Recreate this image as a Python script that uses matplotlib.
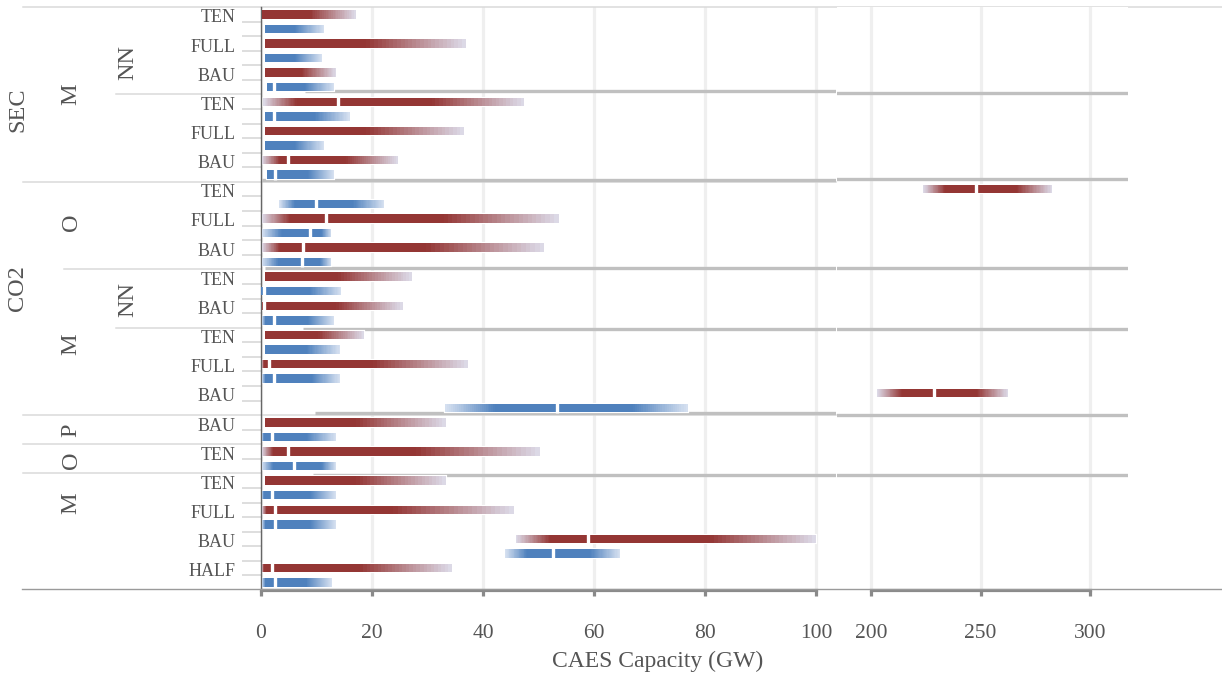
import matplotlib
matplotlib.use('Agg')
import matplotlib.pyplot as plt
import numpy as np
from matplotlib.transforms import blended_transform_factory
from matplotlib.colors import to_rgb
from matplotlib.lines import Line2D

plt.rcParams['font.family'] = ['Liberation Serif', 'DejaVu Serif']

# ---------------- data ----------------
categories = ['TEN', 'FULL', 'BAU', 'TEN', 'FULL', 'BAU',
              'TEN', 'FULL', 'BAU', 'TEN', 'BAU', 'TEN', 'FULL', 'BAU',
              'BAU', 'TEN', 'TEN', 'FULL', 'BAU', 'HALF']

# hierarchical headers: (label, first category, end category)
level1_groups = [('SEC', 0, 6), ('CO2', 6, 14), ('', 14, 20)]
level2_groups = [('M', 0, 6), ('O', 6, 9), ('M', 9, 14), ('P', 14, 15), ('O', 15, 16), ('M', 16, 20)]
level3_groups = [('NN', 0, 3), ('', 3, 6), ('', 6, 9), ('NN', 9, 11), ('', 11, 14),
                 ('', 14, 15), ('', 15, 16), ('', 16, 20)]

# red series: low end, solid start, median (None = no mark), solid end, high end  (GW)
red_lo   = [0.1, 0.7, 0.7, 0.4, 0.7, 0.1, 223.9, 0.1, 0.1, 0.7, 0.1, 0.7, 0.1, 202.9, 0.7, 0.1, 0.7, 0.1, 45.9, 0.1]
red_a    = [0.1, 0.7, 0.7, 6.4, 0.7, 3.4, 233.8, 5.2, 3.4, 0.7, 0.1, 0.7, 0.5, 214.0, 0.7, 2.2, 0.7, 1.0, 52.1, 0.5]
red_med  = [None, None, None, 13.8, None, 4.8, 247.8, 11.7, 7.6, None, 0.6, None, 1.5, 228.6, None, 4.8, None, 2.6, 58.9, 1.9]
red_b    = [8.8, 19.0, 7.3, 30.8, 19.0, 15.4, 266.5, 32.9, 29.8, 13.9, 13.6, 10.3, 20.2, 248.3, 17.2, 28.0, 17.2, 23.8, 80.9, 17.8]
red_hi   = [17.1, 36.9, 13.5, 47.4, 36.6, 24.6, 282.8, 53.6, 51.0, 27.2, 25.5, 18.6, 37.3, 262.6, 33.3, 50.3, 33.3, 45.6, 100.0, 34.4]

# blue series
blue_lo  = [0.8, 0.7, 1.1, 0.8, 0.7, 1.1, 3.3, 0.1, 0.1, 0.0, 0.1, 0.7, 0.1, 33.2, 0.1, 0.1, 0.1, 0.1, 44.0, 0.1]
blue_a   = [0.8, 0.7, 1.1, 0.8, 0.7, 1.1, 6.1, 3.7, 3.1, 0.0, 0.8, 0.7, 0.8, 42.2, 0.5, 2.2, 0.5, 0.8, 47.9, 0.8]
blue_med = [None, None, 2.3, 2.3, None, 2.6, 9.9, 8.8, 7.3, 0.5, 2.3, None, 2.3, 53.3, 1.9, 5.9, 1.9, 2.6, 52.7, 2.6]
blue_b   = [6.1, 6.1, 7.9, 9.7, 6.1, 8.5, 16.6, 10.9, 10.6, 8.8, 8.5, 8.2, 9.1, 67.0, 8.2, 10.9, 8.8, 8.8, 59.3, 8.2]
blue_hi  = [11.4, 11.0, 13.2, 16.0, 11.4, 13.2, 22.2, 12.7, 12.7, 14.5, 13.2, 14.2, 14.2, 76.9, 13.5, 13.5, 13.5, 13.5, 64.7, 12.8]

# grey divider bars: starting value (GW)
divider_start = [7.9, 0.2, 0.7, 7.6, 9.7, 9.4]

left_ticks = [0, 20, 40, 60, 80, 100]
right_ticks = [200, 250, 300]

# ---------------- layout / style ----------------
W, H = 1222, 678
fig = plt.figure(figsize=(W / 100, H / 100), dpi=100)

def fx(px):
    return px / W

def fy(py):
    return 1 - py / H

ax_l = fig.add_axes([fx(261), fy(590), fx(836) - fx(261), fy(7) - fy(590)])
ax_r = fig.add_axes([fx(837), fy(590), fx(1128) - fx(837), fy(7) - fy(590)])
n_sub = 2 * len(categories)

RED = to_rgb('#943634')
RED_LIGHT = to_rgb('#dddcea')
BLUE = to_rgb('#4f81bd')
BLUE_LIGHT = to_rgb('#d8e2f1')
TXT = '#555555'
BAR_H = 0.58
NSEG = 26

def draw_bar(ax, y, lo, a, med, b, hi, solid, light):
    ax.barh(y, hi - lo, left=lo, height=BAR_H, facecolor='none', edgecolor='white', lw=1.6, zorder=2)
    if b > a:
        ax.barh(y, b - a, left=a, height=BAR_H, color=solid, lw=0, zorder=3)
    for s, e, rev in ((lo, a, True), (b, hi, False)):
        if e - s <= 0:
            continue
        edges = np.linspace(s, e, NSEG + 1)
        t = (np.arange(NSEG) + 0.5) / NSEG
        if rev:
            t = 1 - t
        cols = [tuple(np.array(solid) * (1 - tt) + np.array(light) * tt) for tt in t]
        ax.barh([y] * NSEG, np.diff(edges) * 1.02, left=edges[:-1], height=BAR_H,
                color=cols, lw=0, zorder=3)
    if med is not None:
        ax.vlines(med, y - BAR_H / 2 - 0.08, y + BAR_H / 2 + 0.08, colors='white', lw=2.4, zorder=5)

for ax in (ax_l, ax_r):
    for i in range(len(categories)):
        draw_bar(ax, 2 * i, red_lo[i], red_a[i], red_med[i], red_b[i], red_hi[i], RED, RED_LIGHT)
        draw_bar(ax, 2 * i + 1, blue_lo[i], blue_a[i], blue_med[i], blue_b[i], blue_hi[i], BLUE, BLUE_LIGHT)
    ax.set_ylim(n_sub - 0.5, -0.5)
    for s in ('top', 'right'):
        ax.spines[s].set_visible(False)
    ax.spines['bottom'].set_color('#8a8a8a')
    ax.spines['bottom'].set_linewidth(2.3)
    ax.tick_params(axis='x', direction='out', length=4.5, width=2.3, color='#8a8a8a',
                   labelsize=15.5, labelcolor=TXT, pad=20)
    ax.grid(axis='x', color='#efefef', lw=2.3, zorder=0)
    ax.set_axisbelow(True)

# divider grey lines (boundary index + vertical nudge per panel)
div_rows_l = [5.24, 11.37, 17.39, 21.59, 27.39, 31.61]
div_rows_r = [5.38, 11.28, 17.43, 21.59, 27.49, 31.61]
for st, yl, yr in zip(divider_start, div_rows_l, div_rows_r):
    ax_l.hlines(yl, st, 400, colors='#c0c0c0', lw=2.4, zorder=1.5)
    ax_r.hlines(yr, st, 400, colors='#c0c0c0', lw=2.4, zorder=1.5)

ax_l.set_xlim(0, (836 - 261) / 5.55)
ax_l.set_xticks(left_ticks)
ax_l.spines['bottom'].set_bounds(0, 100)
ax_l.spines['left'].set_color('#666666')
ax_l.spines['left'].set_linewidth(1.0)

ax_r.set_xlim(200 - (871 - 837) / 2.19, 300 + (1128 - 1090) / 2.19)
ax_r.set_xticks(right_ticks)
ax_r.spines['bottom'].set_bounds(200, 300)
ax_r.spines['left'].set_visible(False)
ax_r.set_yticks([])

# y ticks at sub-row boundaries
sep_bounds = set()
for groups in (level1_groups, level2_groups, level3_groups):
    for _, s, e in groups:
        sep_bounds.add(2 * s - 0.5)
bounds = [k + 0.5 for k in range(n_sub - 1) if (k + 0.5) not in sep_bounds]
ax_l.set_yticks(bounds)
ax_l.tick_params(axis='y', length=13.7, width=1.1, color='#d4d4d4', labelleft=False)

tr = blended_transform_factory(fig.transFigure, ax_l.transData)
SEP = '#dadada'

# separators
for _, s, e in level1_groups:
    ax_l.plot([fx(23), fx(836) if s > 0 else fx(1222)], [2 * s - 0.5] * 2, color=SEP, lw=1.1,
              transform=tr, clip_on=False, zorder=1)
for _, s, e in level2_groups:
    if s in [g[1] for g in level1_groups]:
        continue
    x0 = 64 if s < 14 else 23
    ax_l.plot([fx(x0), fx(261)], [2 * s - 0.5] * 2, color=SEP, lw=1.1, transform=tr, clip_on=False)
for _, s, e in level3_groups:
    if s in [g[1] for g in level1_groups] or s in [g[1] for g in level2_groups]:
        continue
    ax_l.plot([fx(116), fx(261)], [2 * s - 0.5] * 2, color=SEP, lw=1.1, transform=tr, clip_on=False)

# category labels
for i, c in enumerate(categories):
    ax_l.text(fx(236), 2 * i + 0.25, c, transform=tr, ha='right', va='center',
              fontsize=13, color=TXT)

# group labels (label row position in sub-row units)
l1_pos = [6.57, 18.78, None]
l2_pos = [5.47, 14.25, 22.62, 28.52, 30.58, 33.53]
l3_pos = [3.34, None, None, 19.6, None, None, None, None]
for groups, pos, xpx in ((level1_groups, l1_pos, 18), (level2_groups, l2_pos, 71), (level3_groups, l3_pos, 128)):
    for (lab, s, e), p in zip(groups, pos):
        if lab and p is not None:
            ax_l.text(fx(xpx), p, lab, transform=tr, rotation=90, ha='center', va='center',
                      fontsize=17.5, color=TXT)

# full-width bottom rule
fig.add_artist(Line2D([fx(22), fx(1222)], [fy(589.3)] * 2, color='#9a9a9a', lw=1.0))

fig.text(fx(658), fy(661), 'CAES Capacity (GW)', ha='center', va='center', fontsize=17, color=TXT)

fig.savefig('out.png', dpi=100, facecolor='white')
